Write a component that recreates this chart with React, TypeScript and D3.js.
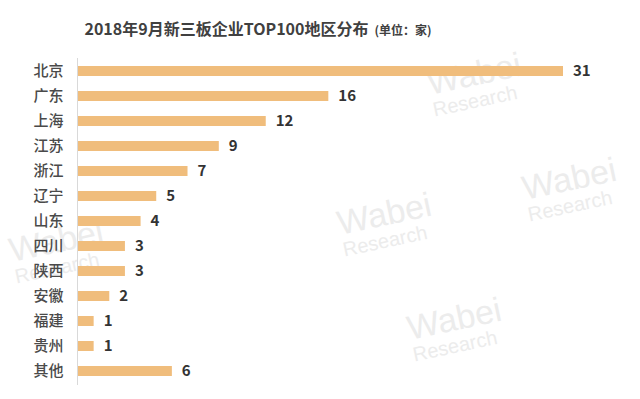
import React, { useRef, useEffect } from 'react';
import * as d3 from 'd3';

const regions = ['北京', '广东', '上海', '江苏', '浙江', '辽宁', '山东', '四川', '陕西', '安徽', '福建', '贵州', '其他'];
const counts = [31, 16, 12, 9, 7, 5, 4, 3, 3, 2, 1, 1, 6];

const title = '2018年9月新三板企业TOP100地区分布';
const unit = '(单位：家)';

// faint "Wabei Research" watermarks scattered over the picture
const marks = [
  { x: 430, y: 95 }, { x: 340, y: 235 }, { x: 410, y: 340 },
  { x: 12, y: 262 }, { x: 525, y: 200 },
];

const FONT = '"Microsoft YaHei", "Noto Sans CJK SC", sans-serif';

const App = () => {
  const svgRef = useRef<SVGSVGElement>(null);

  useEffect(() => {
    const width = 640;
    const height = 399;
    const svg = d3.select(svgRef.current);
    svg.selectAll('*').remove();
    svg.attr('width', width).attr('height', height);

    svg.append('rect').attr('width', width).attr('height', height).attr('fill', '#ffffff');

    // watermark layer
    const wm = svg.append('g').attr('fill', '#ececec').style('font-family', 'Arial, sans-serif');
    marks.forEach(m => {
      const g = wm.append('g').attr('transform', `translate(${m.x},${m.y}) rotate(-12)`);
      g.append('text').attr('font-size', 34).text('Wabei');
      g.append('text').attr('y', 22).attr('font-size', 20).text('Research');
    });

    const y = d3.scaleBand()
      .domain(regions)
      .range([58.5, 383.5])
      .paddingInner(0.6)
      .paddingOuter(0.3);

    const x = d3.scaleLinear()
      .domain([0, 31])
      .range([78, 563]);

    // title
    const t = svg.append('text')
      .attr('x', 258)
      .attr('y', 35)
      .attr('text-anchor', 'middle')
      .style('font-family', FONT)
      .attr('fill', '#404040');
    t.append('tspan').attr('font-size', 16).attr('font-weight', 'bold').text(title);
    t.append('tspan').attr('dx', 6).attr('font-size', 12).attr('font-weight', 'bold').text(unit);

    // bars
    svg.append('g')
      .selectAll('rect')
      .data(regions)
      .join('rect')
      .attr('x', x(0))
      .attr('y', d => y(d)!)
      .attr('width', (d, i) => x(counts[i]) - x(0))
      .attr('height', y.bandwidth())
      .attr('fill', '#F0BD7C');

    // category axis (line + labels)
    const yAxis = d3.axisLeft(y).tickSize(0).tickPadding(14);
    svg.append('g')
      .attr('transform', `translate(${x(0) - 0.5},0)`)
      .call(yAxis)
      .call(g => g.select('.domain').attr('stroke', '#d9d9d9').attr('d', 'M0,58V385'))
      .call(g => g.selectAll('text')
        .attr('fill', '#4a4a4a')
        .style('font-size', '15px')
        .style('font-weight', '500')
        .style('font-family', FONT));

    // value labels
    svg.append('g')
      .selectAll('text')
      .data(regions)
      .join('text')
      .attr('x', (d, i) => x(counts[i]) + 10)
      .attr('y', d => y(d)! + y.bandwidth() / 2)
      .attr('dy', '0.35em')
      .attr('fill', '#333333')
      .style('font-size', '15px')
      .style('font-weight', 'bold')
      .style('font-family', FONT)
      .text((d, i) => counts[i]);
  }, []);

  return (
    <div style={{ position: 'absolute', left: 0, top: 0, width: 640, height: 399, overflow: 'hidden' }}>
      <svg ref={svgRef} style={{ display: 'block' }}></svg>
    </div>
  );
};

export default App;
